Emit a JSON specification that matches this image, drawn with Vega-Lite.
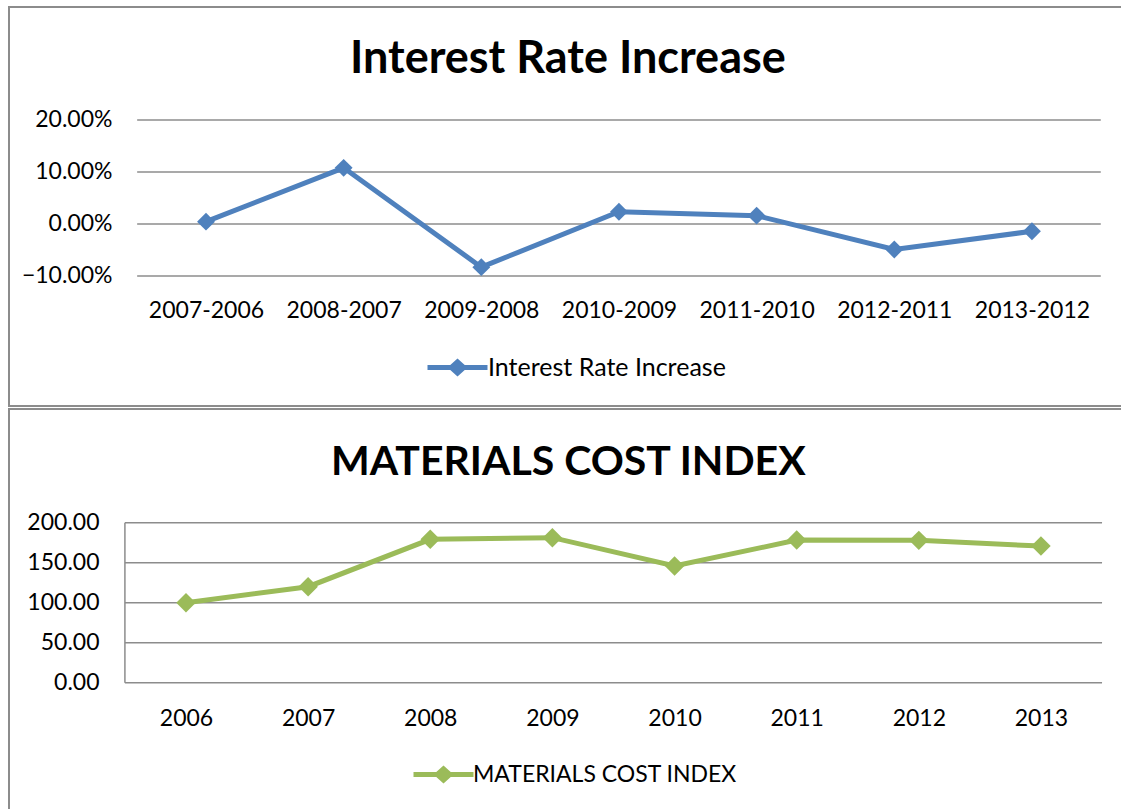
{
  "$schema": "https://vega.github.io/schema/vega-lite/v6.json",
  "padding": {"left": 8, "top": 6, "right": 0, "bottom": 0},
  "spacing": 1,
  "background": "white",
  "config": {
    "view": {"stroke": "#8c8c8c", "strokeWidth": 2},
    "font": "Lato",
    "axis": {"labelFont": "Lato", "labelColor": "black", "title": null, "domain": false, "ticks": false, "tickSize": 0, "grid": false, "labelPadding": 0, "labelFlush": false, "labelOverlap": false},
    "legend": {"labelFont": "Lato", "labelColor": "black", "labelLimit": 0}
  },
  "vconcat": [
    {
      "width": 1116,
      "height": 399,
      "title": {"text": "Interest Rate Increase", "offset": -97, "baseline": "middle", "frame": "group", "anchor": "start", "dx": 341, "fontSize": 45, "font": "Lato", "fontWeight": "bold", "color": "black"},
      "layer": [
        {
          "data": {"values": [{"t": -0.1}, {"t": 0}, {"t": 0.1}, {"t": 0.2}]},
          "mark": {"type": "rule", "color": "#8c8c8c", "strokeWidth": 1.5},
          "encoding": {
            "y": {"field": "t", "type": "quantitative"},
            "x": {"datum": 2006.5, "type": "quantitative"},
            "x2": {"datum": 2013.5}
          }
        },
        {
          "data": {"values": [
            {"period": "2007-2006", "year": 2007, "rate": 0.0045},
            {"period": "2008-2007", "year": 2008, "rate": 0.108},
            {"period": "2009-2008", "year": 2009, "rate": -0.083},
            {"period": "2010-2009", "year": 2010, "rate": 0.0235},
            {"period": "2011-2010", "year": 2011, "rate": 0.016},
            {"period": "2012-2011", "year": 2012, "rate": -0.049},
            {"period": "2013-2012", "year": 2013, "rate": -0.014}
          ]},
          "mark": {"type": "line", "strokeWidth": 5, "point": {"shape": "diamond", "size": 320, "filled": true}},
          "encoding": {
            "x": {"field": "year", "type": "quantitative",
                  "scale": {"domain": [2005.569, 2013.676], "nice": false, "zero": false},
                  "axis": {"values": [2007, 2008, 2009, 2010, 2011, 2012, 2013], "labelExpr": "datum.value + '-' + (datum.value - 1)", "offset": -107, "labelFontSize": 23}},
            "y": {"field": "rate", "type": "quantitative",
                  "scale": {"domain": [-0.35, 0.4173], "nice": false, "zero": false},
                  "axis": {"values": [-0.1, 0, 0.1, 0.2], "format": ".2%", "offset": -103, "labelFontSize": 23}},
            "color": {"datum": "Interest Rate Increase", "type": "nominal",
                      "scale": {"range": ["#4f81bd"]},
                      "legend": {"orient": "none", "legendX": 436, "legendY": 348, "title": null, "padding": 0,
                                 "symbolType": "M-3,-0.25H3V0.25H-3Z M-1,0L0,-0.9L1,0L0,0.9Z", "symbolSize": 400, "symbolStrokeWidth": 0,
                                 "labelOffset": 18, "labelFontSize": 25,
                                 "encode": {"symbols": {"update": {"fill": {"value": "#4f81bd"}, "stroke": {"value": "transparent"}}}}}}
          }
        }
      ]
    },
    {
      "width": 1116,
      "height": 401,
      "title": {"text": "MATERIALS COST INDEX", "offset": -95, "baseline": "middle", "frame": "group", "anchor": "start", "dx": 322, "fontSize": 41, "font": "Lato", "fontWeight": "bold", "color": "black"},
      "layer": [
        {
          "data": {"values": [{"t": 0}, {"t": 50}, {"t": 100}, {"t": 150}, {"t": 200}]},
          "mark": {"type": "rule", "color": "#8c8c8c", "strokeWidth": 1.5},
          "encoding": {
            "y": {"field": "t", "type": "quantitative"},
            "x": {"datum": 2005.5, "type": "quantitative"},
            "x2": {"datum": 2013.5}
          }
        },
        {
          "data": {"values": [{"t": 0}]},
          "mark": {"type": "rule", "color": "#8c8c8c", "strokeWidth": 1.5},
          "encoding": {
            "x": {"datum": 2005.5, "type": "quantitative"},
            "y": {"datum": 0, "type": "quantitative"},
            "y2": {"datum": 200}
          }
        },
        {
          "data": {"values": [
            {"year": 2006, "index": 100},
            {"year": 2007, "index": 120},
            {"year": 2008, "index": 179.2},
            {"year": 2009, "index": 181.3},
            {"year": 2010, "index": 145.8},
            {"year": 2011, "index": 178.3},
            {"year": 2012, "index": 177.9},
            {"year": 2013, "index": 170.8}
          ]},
          "mark": {"type": "line", "strokeWidth": 5, "point": {"shape": "diamond", "size": 380, "filled": true}},
          "encoding": {
            "x": {"field": "year", "type": "quantitative",
                  "scale": {"domain": [2004.551, 2013.688], "nice": false, "zero": false},
                  "axis": {"values": [2006, 2007, 2008, 2009, 2010, 2011, 2012, 2013], "format": "d", "offset": -103, "labelFontSize": 23}},
            "y": {"field": "index", "type": "quantitative",
                  "scale": {"domain": [-159.1, 342.1], "nice": false, "zero": false},
                  "axis": {"values": [0, 50, 100, 150, 200], "format": ".2f", "offset": -90, "labelFontSize": 23}},
            "color": {"datum": "MATERIALS COST INDEX", "type": "nominal",
                      "scale": {"range": ["#9bbb59"]},
                      "legend": {"orient": "none", "legendX": 423, "legendY": 354, "title": null, "padding": 0,
                                 "symbolType": "M-3,-0.25H3V0.25H-3Z M-1,0L0,-0.9L1,0L0,0.9Z", "symbolSize": 400, "symbolStrokeWidth": 0,
                                 "labelOffset": 18, "labelFontSize": 23,
                                 "encode": {"symbols": {"update": {"fill": {"value": "#9bbb59"}, "stroke": {"value": "transparent"}}}}}}
          }
        }
      ]
    }
  ],
  "resolve": {"scale": {"color": "independent"}}
}
